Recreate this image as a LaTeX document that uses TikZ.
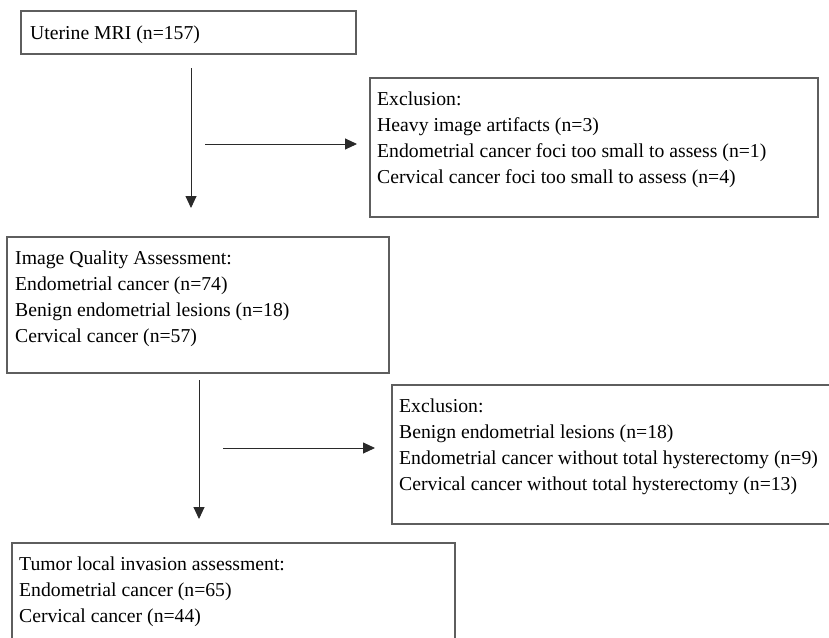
\documentclass[tikz,border=0pt]{standalone}
\usepackage{fontspec}
\setmainfont{Liberation Serif}
\usetikzlibrary{arrows.meta,calc}
\definecolor{boxgray}{HTML}{5E5E5E}
\definecolor{arrowgray}{HTML}{2A2A2A}
\begin{document}
\begin{tikzpicture}[x=1pt,y=-1pt,
  frame/.style={draw=boxgray,line width=1.1pt,anchor=north west,inner sep=0pt,outer sep=0pt},
  txt/.style={anchor=north west,inner sep=0pt,align=left,font=\fontsize{19.7}{26}\selectfont},
  flow/.style={draw=arrowgray,line width=0.9pt,-{Triangle[length=12pt,width=11pt]}}]
\useasboundingbox[fill=white] (0,0) rectangle (829,637);

% boxes
\node[frame,minimum width=335pt,minimum height=43pt] (b1) at (21,11) {};
\node[frame,minimum width=448pt,minimum height=139pt] (b2) at (370,78) {};
\node[frame,minimum width=382pt,minimum height=136pt] (b3) at (7,237) {};
\node[frame,minimum width=450pt,minimum height=139pt] (b4) at (392,385) {};
\node[frame,minimum width=443pt,minimum height=115pt] (b5) at (12,543) {};

% texts
\node[txt] (t1) at ($(b1.north west)+(9,10)$) {\strut Uterine MRI (n=157)};
\node[txt] (t2) at ($(b2.north west)+(7,9)$) {\strut Exclusion:\\
Heavy image artifacts (n=3)\\
Endometrial cancer foci too small to assess (n=1)\\
Cervical cancer foci too small to assess (n=4)};
\node[txt] (t3) at ($(b3.north west)+(8,9)$) {\strut Image Quality Assessment:\\
Endometrial cancer (n=74)\\
Benign endometrial lesions (n=18)\\
Cervical cancer (n=57)};
\node[txt] (t4) at ($(b4.north west)+(7,9)$) {\strut Exclusion:\\
Benign endometrial lesions (n=18)\\
Endometrial cancer without total hysterectomy (n=9)\\
Cervical cancer without total hysterectomy (n=13)};
\node[txt] (t5) at ($(b5.north west)+(7,9)$) {\strut Tumor local invasion assessment:\\
Endometrial cancer (n=65)\\
Cervical cancer (n=44)};

% arrow end points
\coordinate (v1s) at (191,68);
\coordinate (v1e) at (191,208);
\coordinate (h1s) at (205,144);
\coordinate (h1e) at (357,144);
\coordinate (v2s) at (199,380);
\coordinate (v2e) at (199,519);
\coordinate (h2s) at (223,448);
\coordinate (h2e) at (375,448);

\draw[flow] (v1s) -- (v1e);
\draw[flow] (h1s) -- (h1e);
\draw[flow] (v2s) -- (v2e);
\draw[flow] (h2s) -- (h2e);
\end{tikzpicture}
\end{document}
